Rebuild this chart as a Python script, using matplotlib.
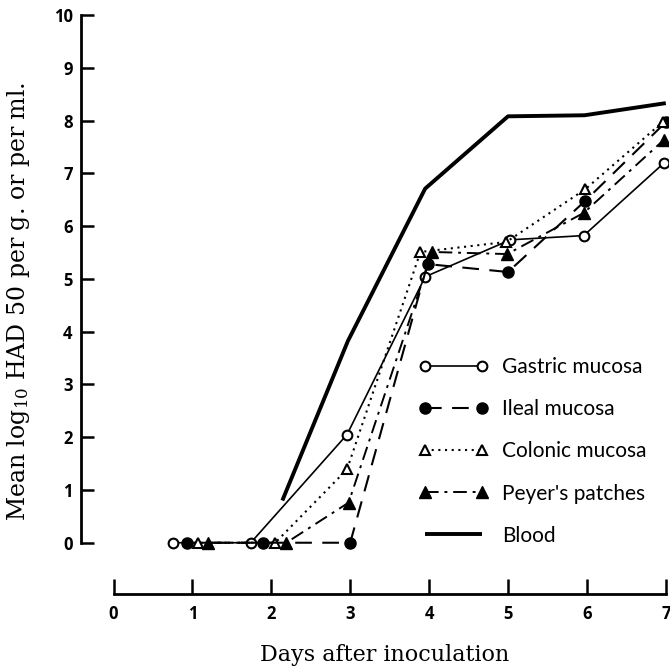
import matplotlib
matplotlib.use("Agg")
import matplotlib.pyplot as plt

# 数据
gastric_x = [0.75, 1.74, 2.96, 3.95, 5.03, 5.96, 6.98]
gastric_y = [0.0, 0.0, 2.05, 5.04, 5.74, 5.82, 7.2]

ileal_x = [0.93, 1.9, 3.0, 3.98, 5.0, 5.98, 7.0]
ileal_y = [0.0, 0.0, 0.0, 5.28, 5.13, 6.48, 7.97]

colonic_x = [1.07, 2.05, 2.96, 3.89, 4.98, 5.98, 6.96]
colonic_y = [0.0, 0.0, 1.39, 5.51, 5.7, 6.7, 7.97]

peyer_x = [1.2, 2.19, 2.98, 4.04, 4.99, 5.96, 6.98]
peyer_y = [0.0, 0.0, 0.76, 5.51, 5.47, 6.25, 7.64]

blood_x = [2.14, 2.97, 3.95, 5.0, 5.97, 7.0]
blood_y = [0.8, 3.82, 6.71, 8.08, 8.1, 8.33]

x_ticks = [0, 1, 2, 3, 4, 5, 6, 7]
y_ticks = [0, 1, 2, 3, 4, 5, 6, 7, 8, 9, 10]

plt.rcParams['mathtext.default'] = 'regular'

W, H = 670, 668
fig = plt.figure(figsize=(W / 100, H / 100), dpi=100)
# 坐标轴位置按像素设置
left, right, top, bottom = 81, 668, 15, 594
ax = fig.add_axes([left / W, 1 - bottom / H, (right - left) / W, (bottom - top) / H])

ms = 7
ax.plot(gastric_x, gastric_y, color='black', lw=1.2, ls='-', marker='o',
        mfc='white', mec='black', mew=1.5, ms=ms, label='Gastric mucosa')
ax.plot(ileal_x, ileal_y, color='black', lw=1.5, ls=(0, (8, 5)), marker='o',
        mfc='black', mec='black', ms=ms + 1, label='Ileal mucosa')
ax.plot(colonic_x, colonic_y, color='black', lw=1.5, ls=(0, (1, 2.2)), marker='^',
        mfc='white', mec='black', mew=1.5, ms=ms, label='Colonic mucosa')
ax.plot(peyer_x, peyer_y, color='black', lw=1.4, ls=(0, (7, 3, 1.5, 3)), marker='^',
        mfc='black', mec='black', ms=ms + 1, label="Peyer's patches")
ax.plot(blood_x, blood_y, color='black', lw=2.8, ls='-', solid_capstyle='butt',
        label='Blood')

x_per_px = 1 / 78.9
y_per_px = 1 / 52.8
ax.set_xlim(-(113.5 - left) * x_per_px, (right - 113.5) * x_per_px)
ax.set_ylim(-(bottom - 542.7) * y_per_px, (542.7 - top) * y_per_px)

for s in ['top', 'right']:
    ax.spines[s].set_visible(False)
ax.spines['left'].set_bounds(0, 10)
ax.spines['bottom'].set_bounds(0, 7)
ax.spines['left'].set_linewidth(2)
ax.spines['bottom'].set_linewidth(2)

ax.set_xticks(x_ticks)
ax.set_yticks(y_ticks)
ax.tick_params(axis='y', direction='in', length=9, width=1.8, pad=6,
               labelsize=12)
ax.tick_params(axis='x', direction='in', length=11, width=1.8, pad=8,
               labelsize=12)
for lab in ax.get_xticklabels() + ax.get_yticklabels():
    lab.set_fontweight('bold')
    lab.set_family('Open Sans')

fig.text(385 / W, 1 - 655 / H, 'Days after inoculation', ha='center', va='center',
         fontsize=16, family='DejaVu Serif')
fig.text(19 / W, 1 - 301 / H, r'Mean log$_{10}$ HAD 50 per g. or per ml.',
         ha='center', va='center', rotation=90, fontsize=17, family='DejaVu Serif')

leg = ax.legend(loc='upper left', bbox_to_anchor=(401 / W, 1 - 340 / H),
                bbox_transform=fig.transFigure, frameon=False, numpoints=2,
                handlelength=3.35, handletextpad=0.67, labelspacing=1.06,
                borderpad=0.33, prop={'family': 'Lato', 'size': 15})

fig.savefig('out.png', dpi=100)
